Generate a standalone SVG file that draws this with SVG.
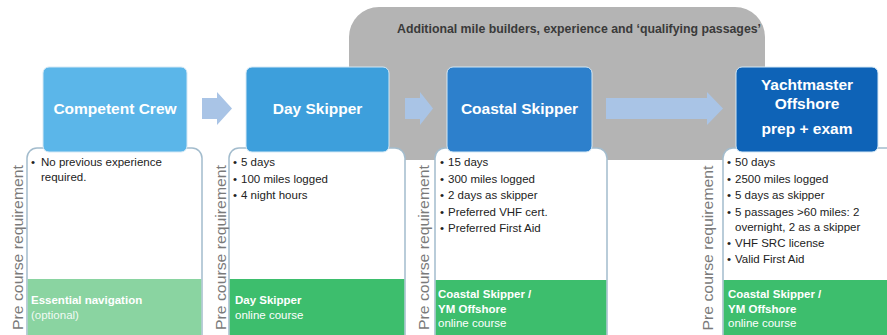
<svg xmlns="http://www.w3.org/2000/svg" width="887" height="335" viewBox="0 0 887 335">
  <style>
    .title { font-family: "Liberation Sans", Arial, sans-serif; font-weight: bold; font-size: 15.5px; fill: #ffffff; text-anchor: middle; }
    .hdr { font-family: "Liberation Sans", Arial, sans-serif; font-weight: bold; font-size: 12.5px; fill: #3a3a3a; }
    .item { font-family: "Liberation Sans", Arial, sans-serif; font-size: 11.5px; fill: #222222; }
    .gb { font-family: "Liberation Sans", Arial, sans-serif; font-weight: bold; font-size: 11.5px; fill: #ffffff; }
    .gn { font-family: "Liberation Sans", Arial, sans-serif; font-size: 11.5px; fill: #ffffff; }
    .side { font-family: "Liberation Sans", Arial, sans-serif; font-size: 14.5px; fill: #7a7a7a; text-anchor: middle; }
    .card { fill: #ffffff; stroke: #a3bccd; stroke-width: 1.5; }
    .blue { stroke: #d4e8f5; stroke-width: 1; }
    .arrow { fill: #a9c4e6; }
  </style>

  <g id="background-band">
    <rect x="349" y="7" width="416" height="153" rx="30" ry="30" fill="#b4b4b4"/>
    <text class="hdr" x="397" y="33" textLength="364" lengthAdjust="spacingAndGlyphs">Additional mile builders, experience and ‘qualifying passages’</text>
  </g>

  <g id="connectors">
    <polygon class="arrow" points="202,98 217,98 217,92 232,108.5 217,125 217,119 202,119"/>
    <polygon class="arrow" points="405,98 420,98 420,92 433,108.5 420,125 420,119 405,119" fill="#abc8ec"/>
    <polygon class="arrow" points="606,98 707,98 707,92 723,108.5 707,125 707,119 606,119" fill="#abc8ec"/>
  </g>

  <g id="competent-crew">
    <path class="card" d="M27,340 V158 A10,10 0 0 1 37,148 H192 A10,10 0 0 1 202,158 V340"/>
    <rect x="27.75" y="279" width="173.5" height="60" fill="#8ad4a1"/>
    <rect class="blue" x="43" y="67" width="144" height="85" rx="6" fill="#5bb6e9"/>
    <text class="title" x="115" y="114">Competent Crew</text>
    <text class="item" x="31" y="166">•</text>
    <text class="item" x="41" y="166">No previous experience</text>
    <text class="item" x="41" y="181">required.</text>
    <text class="gb" x="31" y="304">Essential navigation</text>
    <text class="gn" x="31" y="319" fill-opacity="0.9">(optional)</text>
    <text class="side" transform="translate(23,247.5) rotate(-90)" textLength="165" lengthAdjust="spacingAndGlyphs">Pre course requirement</text>
  </g>

  <g id="day-skipper">
    <path class="card" d="M229,340 V158 A10,10 0 0 1 239,148 H395 A10,10 0 0 1 405,158 V340"/>
    <rect x="229.75" y="279" width="174.5" height="60" fill="#3dbe6d"/>
    <rect class="blue" x="246" y="67" width="143" height="85" rx="6" fill="#3d9fdc"/>
    <text class="title" x="317.5" y="114">Day Skipper</text>
    <text class="item" x="233" y="166">•</text>
    <text class="item" x="241" y="166">5 days</text>
    <text class="item" x="233" y="182.5">•</text>
    <text class="item" x="241" y="182.5">100 miles logged</text>
    <text class="item" x="233" y="199">•</text>
    <text class="item" x="241" y="199">4 night hours</text>
    <text class="gb" x="235" y="304">Day Skipper</text>
    <text class="gn" x="235" y="319">online course</text>
    <text class="side" transform="translate(226,247.5) rotate(-90)" textLength="165" lengthAdjust="spacingAndGlyphs">Pre course requirement</text>
  </g>

  <g id="coastal-skipper">
    <path class="card" d="M435,340 V158 A10,10 0 0 1 445,148 H597 A10,10 0 0 1 607,158 V340"/>
    <rect x="435.75" y="280" width="170.5" height="60" fill="#3dbe6d"/>
    <rect class="blue" x="447" y="67" width="145" height="85" rx="6" fill="#2d80cc"/>
    <text class="title" x="519.5" y="114">Coastal Skipper</text>
    <text class="item" x="440" y="166">•</text>
    <text class="item" x="448" y="166">15 days</text>
    <text class="item" x="440" y="182.5">•</text>
    <text class="item" x="448" y="182.5">300 miles logged</text>
    <text class="item" x="440" y="199">•</text>
    <text class="item" x="448" y="199">2 days as skipper</text>
    <text class="item" x="440" y="215.5">•</text>
    <text class="item" x="448" y="215.5">Preferred VHF cert.</text>
    <text class="item" x="440" y="232">•</text>
    <text class="item" x="448" y="232">Preferred First Aid</text>
    <text class="gb" x="438" y="298">Coastal Skipper /</text>
    <text class="gb" x="438" y="313">YM Offshore</text>
    <text class="gn" x="438" y="327">online course</text>
    <text class="side" transform="translate(429,247.5) rotate(-90)" textLength="165" lengthAdjust="spacingAndGlyphs">Pre course requirement</text>
  </g>

  <g id="yachtmaster-offshore">
    <path class="card" d="M723,340 V158 A10,10 0 0 1 733,148 H895"/>
    <rect x="723.75" y="280" width="170" height="60" fill="#3dbe6d"/>
    <rect class="blue" x="736" y="67" width="142" height="85" rx="6" fill="#0e63b7"/>
    <text class="title" x="807" y="90">Yachtmaster</text>
    <text class="title" x="807" y="109">Offshore</text>
    <text class="title" x="807" y="134">prep + exam</text>
    <text class="item" x="727" y="166">•</text>
    <text class="item" x="735" y="166">50 days</text>
    <text class="item" x="727" y="182.5">•</text>
    <text class="item" x="735" y="182.5">2500 miles logged</text>
    <text class="item" x="727" y="199">•</text>
    <text class="item" x="735" y="199">5 days as skipper</text>
    <text class="item" x="727" y="215.5">•</text>
    <text class="item" x="735" y="215.5">5 passages &gt;60 miles: 2</text>
    <text class="item" x="735" y="231">overnight, 2 as a skipper</text>
    <text class="item" x="727" y="247">•</text>
    <text class="item" x="735" y="247">VHF SRC license</text>
    <text class="item" x="727" y="263">•</text>
    <text class="item" x="735" y="263">Valid First Aid</text>
    <text class="gb" x="728" y="298">Coastal Skipper /</text>
    <text class="gb" x="728" y="313">YM Offshore</text>
    <text class="gn" x="728" y="327">online course</text>
    <text class="side" transform="translate(713,248) rotate(-90)" textLength="165" lengthAdjust="spacingAndGlyphs">Pre course requirement</text>
  </g>
</svg>
